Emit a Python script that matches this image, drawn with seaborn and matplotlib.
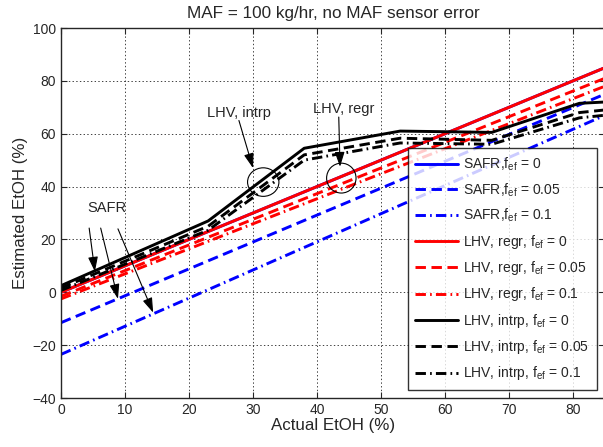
import matplotlib
matplotlib.use("Agg")
import matplotlib.pyplot as plt
from matplotlib.patches import Ellipse
import seaborn as sns
import pandas as pd

# ---- data ----
x_lin = [0, 85]
safr_f0 = [0, 85]
safr_f005 = [-11.5, 75]
safr_f01 = [-23.5, 67]
regr_f0 = [0, 85]
regr_f005 = [-1.5, 81]
regr_f01 = [-2.5, 78]

x_intrp = [0, 23, 38, 53, 67.3, 81, 85]
intrp_f0 = [2.5, 27, 54.5, 61, 60.5, 71.5, 72]
intrp_f005 = [1.6, 25, 52, 58.3, 57.5, 68, 69]
intrp_f01 = [0.7, 23.5, 50, 56.5, 56, 66, 67]

labels = [
    r"SAFR,f$_{ef}$ = 0", r"SAFR,f$_{ef}$ = 0.05", r"SAFR,f$_{ef}$ = 0.1",
    r"LHV, regr, f$_{ef}$ = 0", r"LHV, regr, f$_{ef}$ = 0.05", r"LHV, regr, f$_{ef}$ = 0.1",
    r"LHV, intrp, f$_{ef}$ = 0", r"LHV, intrp, f$_{ef}$ = 0.05", r"LHV, intrp, f$_{ef}$ = 0.1",
]
xticks = [0, 10, 20, 30, 40, 50, 60, 70, 80]
yticks = [-40, -20, 0, 20, 40, 60, 80, 100]

sns.set_style("ticks")
plt.rcParams["font.family"] = ["Liberation Sans", "DejaVu Sans"]
plt.rcParams["mathtext.fontset"] = "custom"
plt.rcParams["mathtext.rm"] = "Liberation Sans"
plt.rcParams["mathtext.it"] = "Liberation Sans"
plt.rcParams["lines.scale_dashes"] = False

fig = plt.figure(figsize=(6.03, 4.47), dpi=100)
ax = fig.add_axes([61 / 603, 49 / 447, 544 / 603, 370 / 447])

dash = (0, (7.5, 4))
dashdot = (0, (7.5, 3, 1.2, 3))
series = [
    (x_lin, safr_f0, "blue", "-"),
    (x_lin, safr_f005, "blue", dash),
    (x_lin, safr_f01, "blue", dashdot),
    (x_lin, regr_f0, "red", "-"),
    (x_lin, regr_f005, "red", dash),
    (x_lin, regr_f01, "red", dashdot),
    (x_intrp, intrp_f0, "black", "-"),
    (x_intrp, intrp_f005, "black", dash),
    (x_intrp, intrp_f01, "black", dashdot),
]
for (xs, ys, c, ls), lab in zip(series, labels):
    df = pd.DataFrame({"x": xs, "y": ys})
    sns.lineplot(data=df, x="x", y="y", ax=ax, color=c, linestyle=ls,
                 linewidth=2.1, label=lab)

ax.set_xlim(0, 85)
ax.set_ylim(-40, 100)
ax.set_xticks(xticks)
ax.set_yticks(yticks)
ax.tick_params(direction="in", top=True, right=True, labelsize=10, length=4, width=0.8)
ax.grid(True, linestyle=":", color="0.25", linewidth=0.7)
for s in ax.spines.values():
    s.set_linewidth(1.0)

ax.set_title("MAF = 100 kg/hr, no MAF sensor error", fontsize=12.3, pad=7)
ax.set_xlabel("Actual EtOH (%)", fontsize=12.2, labelpad=1)
ax.set_ylabel("Estimated EtOH (%)", fontsize=12.2, labelpad=3)

# annotations
arrow_kw = dict(arrowstyle="-|>,head_length=0.9,head_width=0.3", color="black", lw=0.8,
                shrinkA=0, shrinkB=0)
ax.text(27.8, 67.8, "LHV, intrp", ha="center", va="center", fontsize=10.5)
ax.annotate("", xy=(30.0, 47.0), xytext=(27.8, 65.0), arrowprops=arrow_kw)
ax.text(44.1, 69.4, "LHV, regr", ha="center", va="center", fontsize=10.5)
ax.annotate("", xy=(43.6, 47.5), xytext=(43.4, 66.3), arrowprops=arrow_kw)
ax.text(7.2, 31.9, "SAFR", ha="center", va="center", fontsize=10.5)
ax.annotate("", xy=(5.3, 7.8), xytext=(4.4, 24.3), arrowprops=arrow_kw)
ax.annotate("", xy=(8.9, -2.5), xytext=(6.2, 24.3), arrowprops=arrow_kw)
ax.annotate("", xy=(14.4, -7.7), xytext=(8.9, 24.0), arrowprops=arrow_kw)
ax.add_patch(Ellipse((31.6, 41.7), 4.9, 10.8, fill=False, color="black", lw=0.8, zorder=5))
ax.add_patch(Ellipse((43.8, 43.2), 4.6, 11.3, fill=False, color="black", lw=0.8, zorder=5))

leg = ax.legend(loc="lower right",
                bbox_to_anchor=((597 - 61) / 544, (447 - 390 - 49) / 370),
                fontsize=10, frameon=True, fancybox=False, edgecolor="black",
                handlelength=3.1, handletextpad=0.35, labelspacing=0.6, borderpad=0.55,
                borderaxespad=0.0)
leg.get_frame().set_linewidth(1.0)

fig.savefig("out.png", dpi=100)
